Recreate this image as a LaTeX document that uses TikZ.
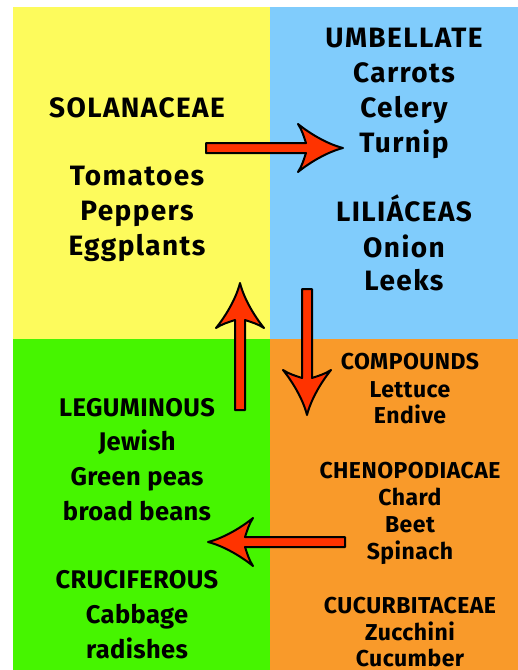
\documentclass[tikz,border=0pt]{standalone}
\usepackage{fontspec}
\newfontfamily\hf{Fira Sans}[LetterSpace=5]
\newfontfamily\hg{Fira Sans}[LetterSpace=1.5]
\newfontfamily\hs{Fira Sans}[LetterSpace=2]
\definecolor{qyellow}{RGB}{253,251,92}
\definecolor{qblue}{RGB}{128,204,252}
\definecolor{qgreen}{RGB}{70,245,0}
\definecolor{qorange}{RGB}{249,154,42}
\definecolor{qred}{RGB}{255,51,0}
\tikzset{
  big/.style={anchor=base, inner sep=0pt, font=\hf\bfseries\fontsize{28}{30}\selectfont},
  mid/.style={anchor=base, inner sep=0pt, font=\hg\bfseries\fontsize{25.5}{27}\selectfont},
  small/.style={anchor=base, inner sep=0pt, font=\hs\bfseries\fontsize{23}{25}\selectfont},
  redarrow/.pic={
    \path[fill=qred, draw=black, line width=2pt, line join=round]
      (0,-5) -- (#1-37,-5)
      .. controls (#1-39,-11) and (#1-41,-18) .. (#1-45,-24)
      .. controls (#1-34,-15) and (#1-16,-4) .. (#1,0)
      .. controls (#1-16,4) and (#1-34,15) .. (#1-45,24)
      .. controls (#1-41,18) and (#1-39,11) .. (#1-37,5)
      -- (0,5) -- cycle;
  }
}
\begin{document}
\begin{tikzpicture}[x=1pt,y=-1pt]
\useasboundingbox (0,0) rectangle (518,670);
\fill[white] (0,0) rectangle (518,670);
\fill[qyellow] (13,7) rectangle (270,339);
\fill[qblue] (270,7) rectangle (518,339);
\fill[qgreen] (13,339) rectangle (270,670);
\fill[qorange] (270,339) rectangle (518,670);
% yellow
\node[big] (sol) at (137,117) {SOLANACEAE};
\node[big] (tom) at (137,185) {Tomatoes};
\node[big] (pep) at (137,220) {Peppers};
\node[big] (egg) at (137,255) {Eggplants};
% blue
\node[big] (umb) at (404,47) {UMBELLATE};
\node[big] (car) at (404,82) {Carrots};
\node[big] (cel) at (404,117) {Celery};
\node[big] (tur) at (404,152) {Turnip};
\node[big] (lil) at (404,221) {LILIÁCEAS};
\node[big] (oni) at (404,257) {Onion};
\node[big] (lee) at (404,290) {Leeks};
% green
\node[mid] (leg) at (137,416) {LEGUMINOUS};
\node[mid] (jew) at (137,450) {Jewish};
\node[mid] (gre) at (137,485) {Green peas};
\node[mid] (bro) at (137,520) {broad beans};
\node[mid] (cru) at (137,588) {CRUCIFEROUS};
\node[mid] (cab) at (137,623) {Cabbage};
\node[mid] (rad) at (137,658) {radishes};
% orange
\node[small] (com) at (410,369) {COMPOUNDS};
\node[small] (let) at (410,397) {Lettuce};
\node[small] (end) at (410,423) {Endive};
\node[small] (che) at (410,478) {CHENOPODIACAE};
\node[small] (cha) at (410,505) {Chard};
\node[small] (bee) at (410,532) {Beet};
\node[small] (spi) at (410,559) {Spinach};
\node[small] (cuc) at (410,613) {CUCURBITACEAE};
\node[small] (zuc) at (410,640) {Zucchini};
\node[small] (cum) at (410,666) {Cucumber};
% arrows
\coordinate (a1) at (206,148);
\coordinate (a2) at (240,410);
\coordinate (a3) at (307,289);
\coordinate (a4) at (345,542);
\pic at (a1) {redarrow=137};
\pic[rotate=90] at (a2) {redarrow=127};
\pic[rotate=-90] at (a3) {redarrow=126};
\pic[rotate=180] at (a4) {redarrow=137};
\end{tikzpicture}
\end{document}
